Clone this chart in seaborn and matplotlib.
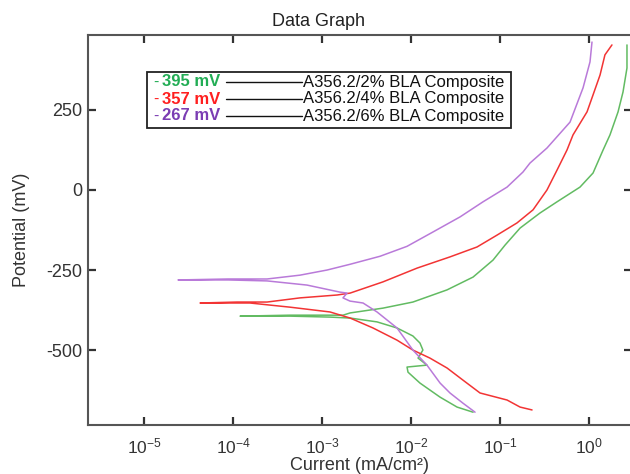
import numpy as np
import pandas as pd
import matplotlib.pyplot as plt
import matplotlib.patches as mpatches
from matplotlib.lines import Line2D
from matplotlib.ticker import NullLocator
import seaborn as sns

# Tafel curves, in scan order (cathodic end -> anodic end)
# current in mA/cm2, potential in mV
p6_current = [0.0524, 0.0384, 0.0274, 0.0212, 0.0151, 0.0105, 0.00696, 0.00415, 0.00289,
              0.00206, 0.00172, 0.00191, 0.00159, 0.000678, 0.000241, 0.000088, 0.0000241,
              0.000088, 0.000241, 0.000566, 0.00114, 0.00207, 0.00449, 0.00902, 0.0177,
              0.0356, 0.0644, 0.120, 0.181, 0.217, 0.337, 0.612, 0.857, 1.026, 1.08]
p6_potential = [-694, -666, -634, -603, -547, -500, -431, -381, -353,
                -347, -337, -322, -319, -297, -284, -281, -281,
                -278, -278, -266, -250, -232, -207, -176, -131,
                -84, -37, 9, 56, 84, 131, 212, 319, 400, 462]

p4_current = [0.229, 0.168, 0.120, 0.0596, 0.0384, 0.0254, 0.0163, 0.0105, 0.00696, 0.00374,
              0.00207, 0.00123, 0.000437, 0.000155, 0.0000426, 0.000111, 0.000241, 0.000566,
              0.00148, 0.00207, 0.00484, 0.0117, 0.0274, 0.0552, 0.0925, 0.155, 0.235,
              0.337, 0.437, 0.566, 0.661, 0.950, 1.11, 1.33, 1.51, 1.81]
p4_potential = [-687, -678, -656, -634, -594, -556, -525, -500, -469, -431,
                -400, -381, -366, -353, -353, -350, -350, -337,
                -328, -322, -287, -244, -209, -178, -141, -103, -62,
                0, 62, 125, 172, 244, 297, 359, 422, 453]

p2_current = [0.0498, 0.0329, 0.0212, 0.0126, 0.00925, 0.00902, 0.0151, 0.0120, 0.0136,
              0.0126, 0.0105, 0.00696, 0.00415, 0.00207, 0.00123, 0.000437, 0.00012,
              0.000437, 0.00172, 0.00207, 0.00484, 0.0105, 0.0254, 0.0498, 0.0834, 0.114,
              0.168, 0.281, 0.437, 0.792, 1.11, 1.44, 1.72, 2.12, 2.41, 2.67, 2.67]
p2_potential = [-694, -678, -647, -603, -569, -553, -547, -525, -500,
                -478, -456, -431, -412, -400, -397, -394, -394,
                -391, -391, -384, -369, -350, -312, -272, -219, -172,
                -119, -72, -37, 9, 53, 125, 172, 244, 306, 381, 453]

samples = ['2% BLA', '4% BLA', '6% BLA']
ecorr_labels = ['395 mV', '357 mV', '267 mV']
x_ticks = [1e-5, 1e-4, 1e-3, 1e-2, 1e-1, 1e0]
y_ticks = [-500, -250, 0, 250]
line_colors = ['#62bb62', '#f23434', '#b97ad9']
text_colors = ['#22ad55', '#ff1f1f', '#7b3db3']

df = pd.concat([
    pd.DataFrame({'current': p2_current, 'potential': p2_potential, 'sample': samples[0]}),
    pd.DataFrame({'current': p4_current, 'potential': p4_potential, 'sample': samples[1]}),
    pd.DataFrame({'current': p6_current, 'potential': p6_potential, 'sample': samples[2]}),
], ignore_index=True)

sns.set_style("ticks")
plt.rcParams['font.family'] = ['Liberation Sans', 'DejaVu Sans']
plt.rcParams['mathtext.fontset'] = 'custom'
plt.rcParams['mathtext.rm'] = 'Liberation Sans'
plt.rcParams['mathtext.it'] = 'Liberation Sans:italic'
plt.rcParams['mathtext.bf'] = 'Liberation Sans:bold'
plt.rcParams['axes.unicode_minus'] = False

W, H = 630, 474
fig = plt.figure(figsize=(6.3, 4.74), dpi=100)
ax = fig.add_axes([87.7 / W, 49 / H, (632 - 87.7) / W, 390 / H])

sns.lineplot(data=df, x='current', y='potential', hue='sample', palette=line_colors,
             sort=False, estimator=None, legend=False, lw=1.1, ax=ax)

ax.set_xscale('log')
ax.set_xlim(10 ** -5.633, 10 ** 0.483)
ax.set_ylim(-734, 484)
ax.set_xticks(x_ticks)
ax.xaxis.set_minor_locator(NullLocator())
ax.set_yticks(y_ticks)
ax.tick_params(direction='in', length=6, width=1.6, top=True, right=True,
               color='#333333', labelcolor='#333333', labelsize=13)
ax.tick_params(axis='y', pad=4)
ax.tick_params(axis='x', pad=8, labelsize=12.5)
for s in ax.spines.values():
    s.set_color('#555555')
    s.set_linewidth(1.5)

ax.set_xlabel('Current (mA/cm²)', fontsize=13, color='#333333', labelpad=1)
ax.set_ylabel('Potential (mV)', fontsize=13, color='#333333')
ax.yaxis.set_label_coords(-58 / (632 - 87.7), 0.5)
fig.text(318 / W, 1 - 22 / H, 'Data Graph', ha='center', va='center', fontsize=13, color='#222222')

# legend box drawn like the instrument software one
fig.add_artist(mpatches.Rectangle((147 / W, 1 - 128 / H), (511 - 147) / W, 56 / H,
                                  transform=fig.transFigure, facecolor='white',
                                  edgecolor='#222222', lw=1.3, zorder=5))
rows_y = [82, 99, 116]
for lab, tc, py in zip(ecorr_labels, text_colors, rows_y):
    fy = 1 - py / H
    fig.text(153 / W, fy, '-', color=tc, fontsize=11.5, va='center', zorder=6)
    fig.text(162 / W, fy, lab, color=tc, fontsize=12, fontweight='bold', va='center', zorder=6)
    fig.add_artist(Line2D([226 / W, 302 / W], [fy, fy], transform=fig.transFigure,
                          color='#111111', lw=1, zorder=6))
for samp, py in zip(samples, rows_y):
    fig.text(303 / W, 1 - py / H, 'A356.2/' + samp + ' Composite', color='#111111',
             fontsize=12, va='center', zorder=6)

fig.savefig('out.png', dpi=100)
